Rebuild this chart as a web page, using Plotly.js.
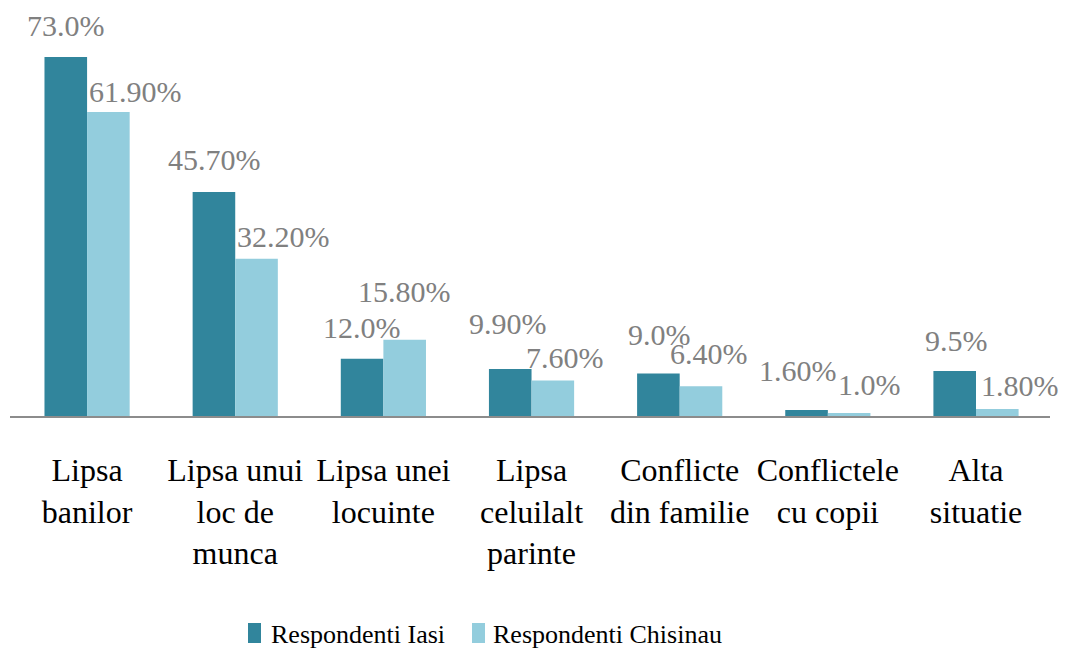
<!DOCTYPE html>
<html>
<head>
<meta charset="utf-8">
<script src="https://cdn.plot.ly/plotly-3.0.1.min.js"></script>
<style>html,body{margin:0;padding:0;background:#fff;}#chart{width:1072px;height:649px;}</style>
</head>
<body>
<div id="chart"></div>
<script>
// ---- data ----
var categories = ["Lipsa<br>banilor", "Lipsa unui<br>loc de<br>munca", "Lipsa unei<br>locuinte", "Lipsa<br>celuilalt<br>parinte", "Conflicte<br>din familie", "Conflictele<br>cu copii", "Alta<br>situatie"];
var seriesNames = ["Respondenti Iasi", "Respondenti Chisinau"];
var iasiValues = [73.0, 45.7, 12.0, 9.9, 9.0, 1.6, 9.5];
var chisinauValues = [61.9, 32.2, 15.8, 7.6, 6.4, 1.0, 1.8];
var iasiLabels = ["73.0%", "45.70%", "12.0%", "9.90%", "9.0%", "1.60%", "9.5%"];
var chisinauLabels = ["61.90%", "32.20%", "15.80%", "7.60%", "6.40%", "1.0%", "1.80%"];

// ---- label placement style (pixel offsets from bar top / bar centre) ----
var iasiLabelDx = [0, 0.5, 0, -2.5, 1.5, -8.5, 1.5];
var iasiLabelDy = [31.5, 32.5, 31, 45.5, 39, 39.5, 31];
var chisLabelDx = [27, 26.5, 0, 11.5, 8, 20, 22.5];
var chisLabelDy = [20, 22.5, 48.5, 23, 33, 29, 24];

var colors = ["#31859C", "#93CDDD"];
var serif = "Liberation Serif, Times New Roman, serif";
var halfBar = 21.5;

// layout geometry (pixels)
var W = 1072, H = 649;
var M = {l: 13, r: 11, t: 10, b: 231};
var plotW = W - M.l - M.r, plotH = H - M.t - M.b;
function px2paperX(px) { return (px - M.l) / plotW; }
function py2paperY(py) { return (H - M.b - py) / plotH; }

var traces = [
  {type: "bar", name: seriesNames[0], x: categories, y: iasiValues, marker: {color: colors[0]}, hoverinfo: "none"},
  {type: "bar", name: seriesNames[1], x: categories, y: chisinauValues, marker: {color: colors[1]}, hoverinfo: "none"}
];

var annotations = [];
categories.forEach(function (c, i) {
  annotations.push({x: c, y: iasiValues[i], xref: "x", yref: "y", text: iasiLabels[i], showarrow: false,
    xanchor: "center", yanchor: "middle", xshift: -halfBar + iasiLabelDx[i], yshift: iasiLabelDy[i],
    font: {family: serif, size: 30, color: "#808080"}});
  annotations.push({x: c, y: chisinauValues[i], xref: "x", yref: "y", text: chisinauLabels[i], showarrow: false,
    xanchor: "center", yanchor: "middle", xshift: halfBar + chisLabelDx[i], yshift: chisLabelDy[i],
    font: {family: serif, size: 30, color: "#808080"}});
});

// ---- manual legend ----
var legendSquareX = [248, 472];
var legendTextX = [269, 491];
var shapes = [{type: "line", xref: "paper", yref: "y", x0: px2paperX(10), x1: px2paperX(1050), y0: 0, y1: 0,
               line: {color: "#8C8C8C", width: 4}, layer: "above"}];
seriesNames.forEach(function (name, k) {
  shapes.push({type: "rect", xref: "paper", yref: "paper",
    x0: px2paperX(legendSquareX[k]), x1: px2paperX(legendSquareX[k] + 13),
    y0: py2paperY(643), y1: py2paperY(623), fillcolor: colors[k], line: {width: 0}});
  annotations.push({xref: "paper", yref: "paper", x: px2paperX(legendTextX[k]), y: py2paperY(634),
    xanchor: "left", yanchor: "middle", showarrow: false, text: name,
    font: {family: serif, size: 26, color: "#000000"}});
});

var layout = {
  width: W, height: H,
  margin: M,
  paper_bgcolor: "#ffffff", plot_bgcolor: "#ffffff",
  barmode: "group", bargap: 0.425, bargroupgap: 0,
  font: {family: serif, color: "#000000"},
  xaxis: {showgrid: false, zeroline: false, showline: false, ticks: "", ticklabelstandoff: 30,
          tickfont: {family: serif, size: 32, color: "#000000"}, fixedrange: true, automargin: false},
  yaxis: {visible: false, range: [0, 82.5], fixedrange: true},
  showlegend: false,
  shapes: shapes,
  annotations: annotations
};

Plotly.newPlot("chart", traces, layout, {displayModeBar: false, staticPlot: true});
</script>
</body>
</html>
